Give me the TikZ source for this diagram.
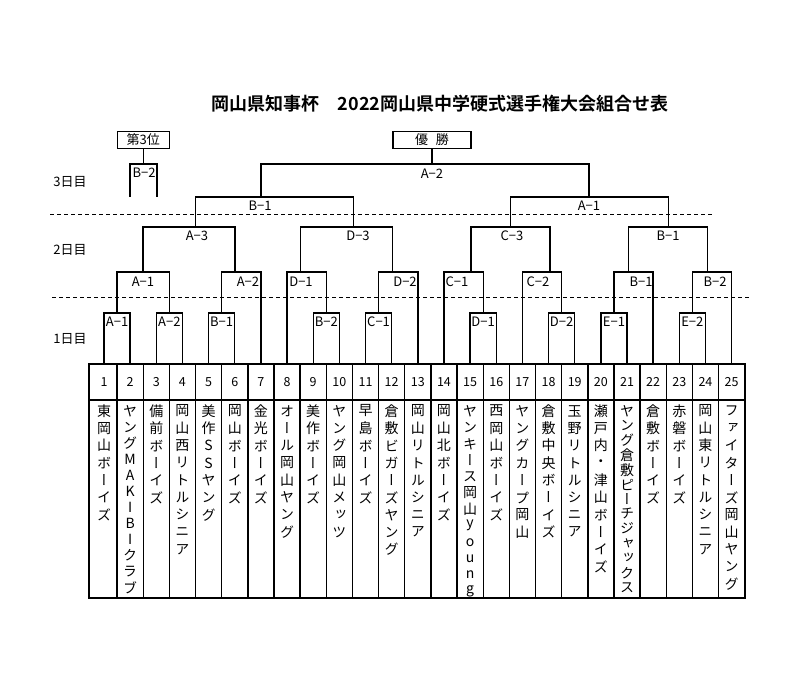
\documentclass[tikz,border=0pt]{standalone}
\usepackage{fontspec}
\setmainfont{Noto Sans CJK JP}
\newfontfamily\cjkv[RawFeature=+vert]{Noto Sans CJK JP}
\newfontfamily\cjkb[BoldFont=* Bold]{Noto Sans CJK JP}
\begin{document}
\begin{tikzpicture}[x=1pt,y=-1pt,line width=1.4pt,
  lab/.style={font=\fontsize{13}{13}\selectfont,inner sep=0pt},
  chr/.style={font=\cjkv\fontsize{14}{14}\selectfont,inner sep=0pt},
  num/.style={font=\fontsize{12.5}{12}\selectfont,inner sep=0pt},
  dayl/.style={font=\fontsize{13}{13}\selectfont,inner sep=0pt},
  dashl/.style={line width=1pt,dash pattern=on 4pt off 3pt}]
\useasboundingbox (0,0) rectangle (800,687);
\fill[white] (0,0) rectangle (800,687);
% title
\node[font=\cjkb\bfseries\fontsize{18}{18}\selectfont,inner sep=0pt] (title) at (440,104) {岡山県知事杯\hspace{1em}2022岡山県中学硬式選手権大会組合せ表};
% day labels
\node[dayl] (d3) at (70,182) {3日目};
\node[dayl] (d2) at (70,250) {2日目};
\node[dayl] (d1) at (70,339) {1日目};
\draw[dashl] (50,214) -- (713,214);
\draw[dashl] (52,297) -- (751,297);
% team boxes
\draw (89,364) rectangle (745,598);
\draw (89,400) -- (745,400);
\foreach \k in {1,...,24}{\draw ({117.1+26.15*(\k-1)},364) -- ({117.1+26.15*(\k-1)},598);}
\foreach \i in {1,...,25}{\node[num] (n\i) at ({104+26.15*(\i-1)},382) {\i};}
\foreach \i/\p/\nm in {
1/17.3/{東,岡,山,ボ,ー,イ,ズ},
2/16.06/{ヤ,ン,グ,M,A,K,I,B,I,ク,ラ,ブ},
3/17.3/{備,前,ボ,ー,イ,ズ},
4/17.3/{岡,山,西,リ,ト,ル,シ,ニ,ア},
5/17.3/{美,作,S,S,ヤ,ン,グ},
6/17.3/{岡,山,ボ,ー,イ,ズ},
7/17.3/{金,光,ボ,ー,イ,ズ},
8/17.3/{オ,ー,ル,岡,山,ヤ,ン,グ},
9/17.3/{美,作,ボ,ー,イ,ズ},
10/17.3/{ヤ,ン,グ,岡,山,メ,ッ,ツ},
11/17.3/{早,島,ボ,ー,イ,ズ},
12/17.3/{倉,敷,ビ,ガ,ー,ズ,ヤ,ン,グ},
13/17.3/{岡,山,リ,ト,ル,シ,ニ,ア},
14/17.3/{岡,山,北,ボ,ー,イ,ズ},
15/16.4/{ヤ,ン,キ,ー,ス,岡,山,y,o,u,n,g},
16/17.3/{西,岡,山,ボ,ー,イ,ズ},
17/17.3/{ヤ,ン,グ,カ,ー,プ,岡,山},
18/17.3/{倉,敷,中,央,ボ,ー,イ,ズ},
19/17.3/{玉,野,リ,ト,ル,シ,ニ,ア},
20/17.3/{瀬,戸,内,・,津,山,ボ,ー,イ,ズ},
21/14.7/{ヤ,ン,グ,倉,敷,ピ,ー,チ,ジ,ャ,ッ,ク,ス},
22/17.3/{倉,敷,ボ,ー,イ,ズ},
23/17.3/{赤,磐,ボ,ー,イ,ズ},
24/17.3/{岡,山,東,リ,ト,ル,シ,ニ,ア},
25/17.3/{フ,ァ,イ,タ,ー,ズ,岡,山,ヤ,ン,グ}}{
  \foreach \ch [count=\k] in \nm {
    \node[chr] (t\i-\k) at ({104+26.15*(\i-1)},{411+\p*(\k-1)}) {\ch};
  }
}
\newcommand\brk[5]{\draw (#1,#4) -- (#1,#3) -- (#2,#3) -- (#2,#5);}
% round 1
\foreach \a/\lb in {1/A−1,3/A−2,5/B−1,9/B−2,11/C−1,15/D−1,18/D−2,20/E−1,23/E−2}{
  \pgfmathsetmacro\xa{104+26.15*(\a-1)}
  \pgfmathsetmacro\xb{104+26.15*\a}
  \brk{\xa}{\xb}{313}{364}{364}
  \node[lab] (r1-\a) at ({(\xa+\xb)/2},322) {\lb};
}
% round 2
\brk{117.1}{169.4}{272}{313}{313}
\brk{221.7}{260.9}{272}{313}{364}
\brk{287.05}{326.3}{272}{364}{313}
\brk{378.6}{417.8}{272}{313}{364}
\brk{443.95}{483.2}{272}{364}{313}
\brk{522.4}{561.6}{272}{364}{313}
\brk{613.9}{653.15}{272}{313}{364}
\brk{692.4}{731.6}{272}{313}{364}
\foreach \x/\n/\lb in {143/a/A−1,248/b/A−2,301/c/D−1,405/d/D−2,457/e/C−1,538/f/C−2,641/g/B−1,715/h/B−2}{
  \node[lab] (r2-\n) at (\x,282) {\lb};}
% round 3
\brk{143}{235}{227}{272}{272}
\brk{300.7}{392.3}{227}{272}{272}
\brk{471}{550}{227}{272}{272}
\brk{628.7}{707.3}{227}{272}{272}
\foreach \x/\n/\lb in {197/a/A−3,358/b/D−3,512/c/C−3,668/d/B−1}{
  \node[lab] (r3-\n) at (\x,236) {\lb};}
% round 4
\brk{195.7}{353.3}{197}{227}{227}
\brk{510.3}{668.3}{197}{227}{227}
\node[lab] (r4a) at (260,206) {B−1};
\node[lab] (r4b) at (589,206) {A−1};
% final
\brk{261}{589}{164}{197}{197}
\node[lab] (fin) at (432,173.5) {A−2};
\node[draw,line width=1.4pt,minimum width=78pt,minimum height=16.5pt,inner sep=0pt,font=\fontsize{13}{13}\selectfont] (champ) at (432,140) {優\hspace{0.6em}勝};
\draw (champ.south) -- (432,164);
% third place
\node[draw,line width=1.4pt,minimum width=52pt,minimum height=16.5pt,inner sep=0pt,font=\fontsize{13}{13}\selectfont] (third) at (143.3,140) {第3位};
\draw (third.south) -- (143.3,164);
\brk{130}{157}{164}{197}{197}
\node[lab] (thirdlb) at (144,173) {B−2};
\end{tikzpicture}
\end{document}
